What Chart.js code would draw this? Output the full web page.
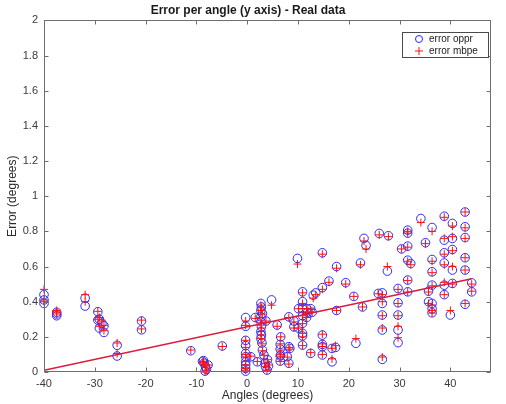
<!DOCTYPE html>
<html>
<head>
<meta charset="utf-8">
<script src="https://cdn.jsdelivr.net/npm/chart.js@4"></script>
<style>
  html, body { margin: 0; padding: 0; background: #fff; }
  #wrap { width: 506px; height: 404px; position: relative; }
</style>
</head>
<body>
<div id="wrap"><canvas id="errChart"></canvas></div>
<script>
// Angles (degrees) and error per method
const angles = [
  -40, -40, -40, -37.5, -37.5, -37.5, -31.9, -31.9, -29.4, -29.4, -29.1, -29.1, -28.6, -28.2, -28.2, -25.6, -25.6, -20.8, -20.8,
  -11.1, -8.8, -8.6, -8.5, -8.3, -8.2, -8.0, -7.7, -4.9,
  -0.3, -0.3, -0.3, -0.3, -0.3, -0.3, -0.3, -0.3, -0.3, -0.3, 0.7, 1.6, 2.0,
  2.7, 2.8, 2.7, 3.0, 2.7, 2.7, 2.8, 2.7, 2.8, 2.7, 2.9, 3.0, 3.3, 3.5, 3.6, 3.9, 3.7, 4.0, 4.2,
  4.8, 5.9, 6.5, 6.5, 6.5, 6.5, 6.6, 6.6, 7.9, 8.2, 8.2, 8.2, 8.4, 9.2, 9.2,
  9.9, 10.1, 10.1, 10.9, 10.9, 10.9, 10.9, 10.9, 10.9, 10.9, 10.9, 11.7, 11.7, 11.9, 12.5, 12.5, 12.8, 13.0, 13.5,
  14.8, 14.8, 14.8, 14.8, 14.8, 14.8, 16.1, 16.7, 16.7, 17.4, 17.6, 17.6, 19.4, 21.0, 21.4, 22.3, 22.7, 23.0, 23.4,
  25.8, 26.0, 26.6, 26.6, 26.6, 26.6, 26.6, 27.6, 27.8, 29.7, 29.7, 29.7, 29.7, 29.7, 30.4, 31.6, 31.6, 31.6, 31.6, 31.6, 31.6, 32.2,
  34.2, 35.1, 35.7, 35.7, 36.4, 36.4, 36.4, 36.4, 36.4, 36.4, 36.4,
  38.8, 38.8, 38.8, 38.8, 38.8, 38.8, 40.4, 40.4, 40.4, 40.4, 40.4, 40.0, 42.9, 42.9, 42.9, 42.9, 42.9, 42.9, 44.2, 44.2
];
const errOppr = [
  0.44, 0.41, 0.39, 0.34, 0.33, 0.32, 0.42, 0.375, 0.343, 0.295, 0.30, 0.25, 0.277, 0.263, 0.225, 0.152, 0.091, 0.29, 0.24,
  0.121, 0.06, 0.065, 0.05, 0.005, 0.03, 0.015, 0.04, 0.148,
  0.31, 0.26, 0.18, 0.15, 0.106, 0.087, 0.058, 0.04, 0.02, 0.005, 0.087, 0.31, 0.058,
  0.39, 0.37, 0.35, 0.333, 0.314, 0.286, 0.257, 0.229, 0.21, 0.19, 0.165, 0.125, 0.097, 0.05, 0.03, 0.011, 0.29, 0.07, 0.035,
  0.41, 0.267, 0.157, 0.13, 0.091, 0.062, 0.2, 0.097, 0.087, 0.314, 0.144, 0.05, 0.134, 0.29, 0.257,
  0.646, 0.36, 0.25, 0.456, 0.40, 0.36, 0.32, 0.277, 0.22, 0.205, 0.153, 0.36, 0.31, 0.34, 0.106, 0.36, 0.34, 0.437, 0.45,
  0.678, 0.48, 0.21, 0.157, 0.144, 0.097, 0.517, 0.134, 0.058, 0.14, 0.60, 0.35, 0.508, 0.43, 0.163, 0.62, 0.37, 0.76, 0.72,
  0.447, 0.788, 0.45, 0.39, 0.324, 0.239, 0.072, 0.574, 0.775, 0.475, 0.394, 0.324, 0.239, 0.167, 0.70, 0.807, 0.79, 0.716, 0.636, 0.523, 0.456, 0.617,
  0.873, 0.735, 0.46, 0.40, 0.822, 0.64, 0.57, 0.494, 0.39, 0.36, 0.337,
  0.886, 0.75, 0.678, 0.62, 0.494, 0.44, 0.845, 0.76, 0.697, 0.58, 0.504, 0.324, 0.91, 0.826, 0.765, 0.65, 0.58, 0.385, 0.507, 0.456
];
const errMbpe = [
  0.47, 0.41, 0.40, 0.35, 0.34, 0.33, 0.44, 0.40, 0.345, 0.30, 0.31, 0.26, 0.29, 0.265, 0.235, 0.165, 0.105, 0.295, 0.245,
  0.125, 0.055, 0.06, 0.045, 0.0, 0.035, 0.01, 0.04, 0.145,
  0.29, 0.265, 0.18, 0.14, 0.10, 0.085, 0.06, 0.04, 0.02, 0.01, 0.09, 0.305, 0.06,
  0.38, 0.365, 0.35, 0.33, 0.31, 0.28, 0.25, 0.23, 0.21, 0.19, 0.16, 0.12, 0.095, 0.05, 0.03, 0.01, 0.29, 0.07, 0.04,
  0.38, 0.26, 0.16, 0.125, 0.09, 0.06, 0.2, 0.1, 0.085, 0.31, 0.14, 0.045, 0.13, 0.285, 0.25,
  0.614, 0.36, 0.25, 0.45, 0.39, 0.36, 0.32, 0.275, 0.22, 0.2, 0.15, 0.36, 0.31, 0.34, 0.11, 0.355, 0.34, 0.42, 0.44,
  0.67, 0.47, 0.215, 0.16, 0.145, 0.1, 0.51, 0.135, 0.075, 0.15, 0.59, 0.35, 0.50, 0.43, 0.19, 0.61, 0.37, 0.745, 0.70,
  0.445, 0.78, 0.44, 0.40, 0.32, 0.25, 0.085, 0.60, 0.77, 0.47, 0.39, 0.32, 0.26, 0.195, 0.70, 0.80, 0.79, 0.71, 0.63, 0.52, 0.455, 0.61,
  0.85, 0.73, 0.455, 0.39, 0.80, 0.63, 0.565, 0.49, 0.38, 0.35, 0.335,
  0.88, 0.76, 0.67, 0.61, 0.51, 0.44, 0.83, 0.77, 0.69, 0.60, 0.50, 0.35, 0.91, 0.82, 0.76, 0.65, 0.58, 0.39, 0.50, 0.46
];

// Fitted line end points
const fitX = [-40, 44.2];
const fitY = [0.01, 0.53];

// Axis ranges
const X_MIN = -40, X_MAX = 48, X_STEP = 10;
const Y_MIN = 0, Y_MAX = 2, Y_STEP = 0.2;

// Theme
const BLUE = '#2a2aff';
const RED = '#ff1010';
const FIT_COLOR = '#dc1a3c';
const AXIS_COLOR = '#6e6e6e';
const TEXT_COLOR = '#3a3a3a';
const FONT = '"Liberation Sans", Arial, sans-serif';

const toPoints = (xs, ys) => xs.map((x, i) => ({ x, y: ys[i] }));

// Box around plot area, inward ticks on all sides, and legend box
const matlabFrame = {
  id: 'matlabFrame',
  afterDraw(chart) {
    const { ctx, chartArea: a, scales } = chart;
    const L = Math.round(a.left) + 0.5, R = Math.round(a.right) - 0.5;
    const T = Math.round(a.top) + 0.5, B = Math.round(a.bottom) - 0.5;
    ctx.save();
    ctx.strokeStyle = AXIS_COLOR;
    ctx.lineWidth = 1;
    ctx.strokeRect(L, T, R - L, B - T);

    const tl = 4;
    ctx.beginPath();
    scales.x.ticks.forEach(t => {
      const px = Math.round(scales.x.getPixelForValue(t.value)) + 0.5;
      ctx.moveTo(px, B); ctx.lineTo(px, B - tl);
      ctx.moveTo(px, T); ctx.lineTo(px, T + tl);
    });
    scales.y.ticks.forEach(t => {
      const py = Math.round(scales.y.getPixelForValue(t.value)) + 0.5;
      ctx.moveTo(L, py); ctx.lineTo(L + tl, py);
      ctx.moveTo(R, py); ctx.lineTo(R - tl, py);
    });
    ctx.stroke();

    // legend (north-east, inside the axes)
    const lx = 402.5, ly = 32.5, lw = 86, lh = 25;
    ctx.fillStyle = '#fff';
    ctx.fillRect(lx, ly, lw, lh);
    ctx.strokeStyle = '#4a4a4a';
    ctx.strokeRect(lx, ly, lw, lh);

    const mx = 419;
    ctx.strokeStyle = BLUE;
    ctx.beginPath();
    ctx.arc(mx, ly + 6.5, 3.5, 0, Math.PI * 2);
    ctx.stroke();
    ctx.strokeStyle = RED;
    ctx.beginPath();
    ctx.moveTo(mx - 4, ly + 18.5); ctx.lineTo(mx + 4, ly + 18.5);
    ctx.moveTo(mx, ly + 14.5); ctx.lineTo(mx, ly + 22.5);
    ctx.stroke();

    ctx.fillStyle = '#222';
    ctx.font = '10px ' + FONT;
    ctx.textBaseline = 'middle';
    ctx.textAlign = 'left';
    ctx.fillText('error oppr', 429, ly + 6.5);
    ctx.fillText('error mbpe', 429, ly + 18.5);
    ctx.restore();
  }
};

new Chart(document.getElementById('errChart'), {
  type: 'scatter',
  data: {
    datasets: [
      {
        label: 'fit',
        type: 'line',
        data: toPoints(fitX, fitY),
        borderColor: FIT_COLOR,
        borderWidth: 1.5,
        pointRadius: 0,
        fill: false,
        order: 0
      },
      {
        label: 'error mbpe',
        data: toPoints(angles, errMbpe),
        pointStyle: 'cross',
        pointRadius: 4,
        borderColor: RED,
        backgroundColor: RED,
        borderWidth: 1,
        clip: false,
        order: 1
      },
      {
        label: 'error oppr',
        data: toPoints(angles, errOppr),
        pointStyle: 'circle',
        pointRadius: 4.3,
        borderColor: BLUE,
        backgroundColor: 'rgba(0,0,0,0)',
        borderWidth: 1,
        clip: false,
        order: 2
      }
    ]
  },
  options: {
    responsive: true,
    maintainAspectRatio: false,
    animation: false,
    layout: { padding: { left: 5, right: 15, top: 0, bottom: 1 } },
    plugins: {
      legend: { display: false },
      tooltip: { enabled: false },
      title: {
        display: true,
        text: 'Error per angle (y axis) - Real data',
        color: '#1a1a1a',
        font: { family: FONT, size: 12, weight: 'bold' },
        padding: { top: 3, bottom: 3 }
      }
    },
    scales: {
      x: {
        type: 'linear',
        min: X_MIN,
        max: X_MAX,
        grid: { display: false, drawTicks: false },
        border: { display: false },
        ticks: {
          stepSize: X_STEP,
          includeBounds: false,
          color: TEXT_COLOR,
          padding: 5,
          maxRotation: 0,
          font: { family: FONT, size: 11 },
          callback: (v) => String(v)
        },
        title: {
          display: true,
          text: 'Angles (degrees)',
          color: '#2a2a2a',
          font: { family: FONT, size: 12 },
          padding: 0
        },
        afterFit: (scale) => { scale.height = 31; }
      },
      y: {
        type: 'linear',
        min: Y_MIN,
        max: Y_MAX,
        grid: { display: false, drawTicks: false },
        border: { display: false },
        ticks: {
          stepSize: Y_STEP,
          color: TEXT_COLOR,
          padding: 6,
          font: { family: FONT, size: 11 },
          callback: (v) => String(+v.toFixed(1))
        },
        title: {
          display: true,
          text: 'Error (degrees)',
          color: '#2a2a2a',
          font: { family: FONT, size: 12 },
          padding: 0
        },
        afterFit: (scale) => { scale.width = 39; }
      }
    }
  },
  plugins: [matlabFrame]
});
</script>
</body>
</html>
